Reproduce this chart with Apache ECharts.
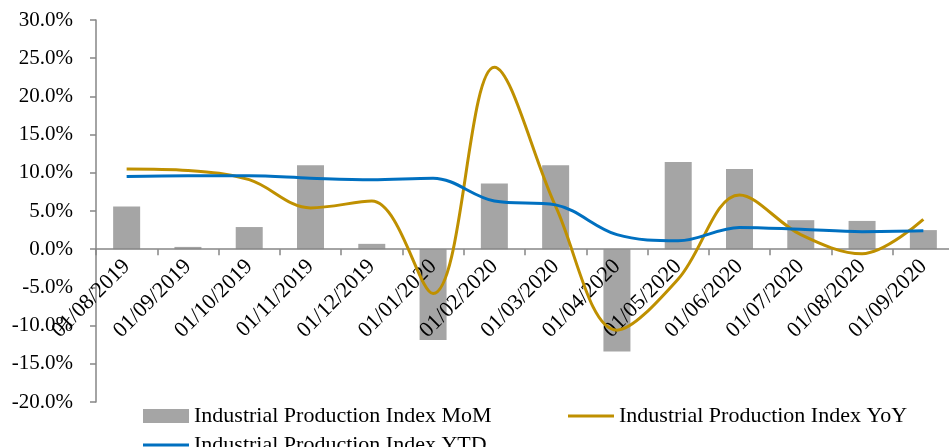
<!DOCTYPE html>
<html>
<head>
<meta charset="utf-8">
<script src="https://cdn.jsdelivr.net/npm/echarts@6/dist/echarts.min.js"></script>
<style>
  html, body { margin: 0; padding: 0; background: #ffffff; }
  #chart { width: 949px; height: 447px; }
</style>
</head>
<body>
<div id="chart"></div>
<script>
// Monthly categories
const months = ['01/08/2019', '01/09/2019', '01/10/2019', '01/11/2019', '01/12/2019',
  '01/01/2020', '01/02/2020', '01/03/2020', '01/04/2020', '01/05/2020',
  '01/06/2020', '01/07/2020', '01/08/2020', '01/09/2020'];

// Values in percent
const momValues = [5.6, 0.3, 2.9, 11.0, 0.7, -11.9, 8.6, 11.0, -13.4, 11.4, 10.5, 3.8, 3.7, 2.5];
const yoyValues = [10.5, 10.3, 9.1, 5.4, 6.3, -5.8, 23.8, 5.6, -10.6, -3.9, 7.1, 1.9, -0.6, 3.9];
const ytdValues = [9.5, 9.6, 9.6, 9.3, 9.1, 9.3, 6.3, 5.8, 1.9, 1.1, 2.85, 2.6, 2.3, 2.4];

const seriesNames = ['Industrial Production Index MoM', 'Industrial Production Index YoY', 'Industrial Production Index YTD'];

const Y_MIN = -20, Y_MAX = 30, Y_STEP = 5;

const FONT = '"Liberation Serif", "Times New Roman", serif';
const AXIS_GREY = '#868686';
const legendText = { fontFamily: FONT, fontSize: 22, color: '#000000' };

const GRID_TOP = 20, GRID_BOTTOM = 45, CHART_H = 447;
// Lift the category axis (with its labels) from the plot bottom up to the 0% line
const plotH = CHART_H - GRID_TOP - GRID_BOTTOM;
const zeroLift = -plotH * (0 - Y_MIN) / (Y_MAX - Y_MIN);

const chart = echarts.init(document.getElementById('chart'), null, { renderer: 'canvas' });

chart.setOption({
  animation: false,
  backgroundColor: '#ffffff',
  textStyle: { fontFamily: FONT, color: '#000000' },
  grid: { left: 96, right: -5, top: GRID_TOP, bottom: GRID_BOTTOM, containLabel: false, outerBoundsMode: 'none' },
  legend: [
    {
      data: [{ name: seriesNames[0], icon: 'rect' }],
      left: 138, top: 400,
      itemWidth: 46, itemHeight: 14,
      textStyle: legendText
    },
    {
      data: [{ name: seriesNames[1], icon: 'rect' }],
      left: 563, top: 400,
      itemWidth: 46, itemHeight: 3,
      textStyle: legendText
    },
    {
      data: [{ name: seriesNames[2], icon: 'rect' }],
      left: 138, top: 429,
      itemWidth: 46, itemHeight: 3,
      textStyle: legendText
    }
  ],
  xAxis: {
    type: 'category',
    data: months,
    position: 'bottom',
    offset: zeroLift,
    z: 3,
    axisLine: { onZero: false, lineStyle: { color: AXIS_GREY, width: 1.5 } },
    axisTick: { show: true, length: 6, lineStyle: { color: AXIS_GREY, width: 1.5 } },
    axisLabel: { rotate: 45, fontFamily: FONT, fontSize: 22, color: '#000000', margin: 14 },
    splitLine: { show: false }
  },
  yAxis: {
    type: 'value',
    min: Y_MIN, max: Y_MAX, interval: Y_STEP,
    axisLine: { show: true, lineStyle: { color: AXIS_GREY, width: 1.5 } },
    axisTick: { show: true, length: 6, lineStyle: { color: AXIS_GREY, width: 1.5 } },
    axisLabel: {
      fontFamily: FONT, fontSize: 21, color: '#000000', margin: 23,
      formatter: v => v.toFixed(1) + '%'
    },
    splitLine: { show: false }
  },
  series: [
    {
      name: seriesNames[0],
      type: 'bar',
      data: momValues,
      barWidth: 27,
      itemStyle: { color: '#A5A5A5' }
    },
    {
      name: seriesNames[1],
      type: 'line',
      data: yoyValues,
      smooth: 0.35,
      symbol: 'none',
      z: 4,
      lineStyle: { color: '#BF9000', width: 3 },
      itemStyle: { color: '#BF9000' }
    },
    {
      name: seriesNames[2],
      type: 'line',
      data: ytdValues,
      smooth: 0.35,
      symbol: 'none',
      z: 4,
      lineStyle: { color: '#0070C0', width: 3 },
      itemStyle: { color: '#0070C0' }
    }
  ]
});
</script>
</body>
</html>
